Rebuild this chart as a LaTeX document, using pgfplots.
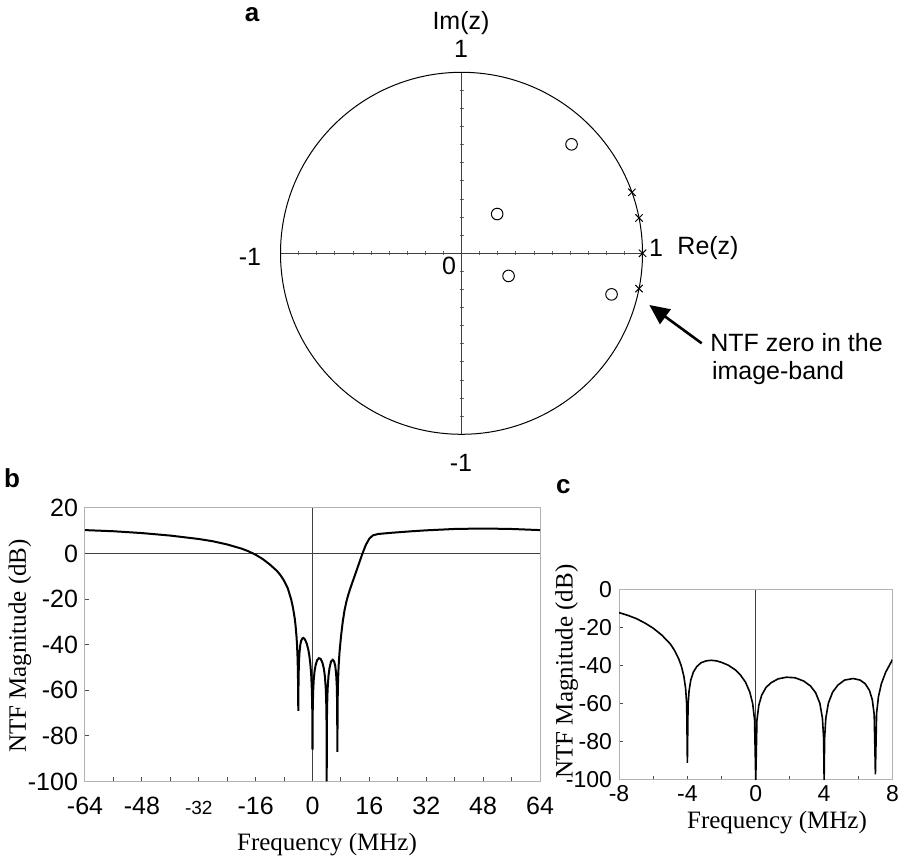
\documentclass[border=0pt]{standalone}
\usepackage{fontspec}
\setmainfont{Liberation Serif}
\setsansfont{Liberation Sans}
\usepackage{pgfplots}
\usepackage{pgfplotstable}
\pgfplotsset{compat=1.18}
\usetikzlibrary{arrows.meta}

\newcommand{\sfl}{\sffamily\fontsize{12.5}{14}\selectfont}
\newcommand{\sfm}{\sffamily\fontsize{12.5}{14}\selectfont}
\newcommand{\sfs}{\sffamily\fontsize{11.5}{13}\selectfont}
\newcommand{\rml}{\rmfamily\fontsize{12.5}{14}\selectfont}
\newcommand{\bfl}{\sffamily\bfseries\fontsize{13}{14}\selectfont}

% panel c: NTF magnitude, -8..8 MHz
\pgfplotstableread{
f db
-8 -11.9
-7.5 -13.3
-7 -15.0
-6.5 -17.3
-6 -20.1
-5.5 -23.7
-5 -28.4
-4.75 -31.8
-4.5 -36.4
-4.35 -40.1
-4.2 -45.7
-4.1 -52.1
-4.04 -60.3
-4 -91
-3.96 -60.7
-3.9 -53.0
-3.8 -47.4
-3.65 -43.2
-3.45 -40.3
-3.2 -38.3
-2.9 -37.3
-2.6 -37.0
-2.3 -37.3
-2 -38.1
-1.6 -39.6
-1.2 -42.0
-0.9 -44.7
-0.6 -48.5
-0.35 -53.7
-0.18 -59.8
-0.07 -68.2
0 -100
0.07 -68.6
0.18 -60.6
0.35 -55.3
0.6 -51.3
0.9 -48.8
1.3 -46.8
1.8 -45.9
2.3 -46.2
2.8 -47.9
3.2 -50.5
3.5 -54.0
3.75 -59.6
3.9 -67.4
3.97 -77.8
4 -100
4.03 -77.8
4.1 -67.4
4.25 -59.5
4.5 -53.7
4.8 -50.1
5.2 -47.4
5.7 -46.6
6.1 -47.4
6.4 -49.3
6.65 -52.8
6.82 -57.8
6.93 -65.6
7 -97
7.07 -64.9
7.18 -56.1
7.35 -49.3
7.6 -43.3
8 -36.6
}\ntfc

% panel b: NTF magnitude, -64..64 MHz
\pgfplotstableread{
f db
-64 10.3
-56 9.8
-48 9.0
-40 7.9
-32 6.4
-28 5.4
-24 4.0
-20 2.2
-18 1.0
-16 -0.5
-14 -2.4
-12 -4.8
-10 -7.6
-9 -9.5
-8 -11.9
-7 -15.0
-6 -20.1
-5.5 -23.7
-5 -28.4
-4.75 -31.8
-4.5 -36.4
-4.35 -40.1
-4.2 -45.7
-4.1 -52.1
-4.04 -60.3
-4 -69
-3.96 -60.7
-3.9 -53.0
-3.8 -47.4
-3.65 -43.2
-3.45 -40.3
-3.2 -38.3
-2.9 -37.3
-2.6 -37.0
-2.3 -37.3
-2 -38.1
-1.6 -39.6
-1.2 -42.0
-0.9 -44.7
-0.6 -48.5
-0.35 -53.7
-0.18 -59.8
-0.07 -68.2
0 -86
0.07 -68.6
0.18 -60.6
0.35 -55.3
0.6 -51.3
0.9 -48.8
1.3 -46.8
1.8 -45.9
2.3 -46.2
2.8 -47.9
3.2 -50.5
3.5 -54.0
3.75 -59.6
3.9 -67.4
3.97 -77.8
4 -100
4.03 -77.8
4.1 -67.4
4.25 -59.5
4.5 -53.7
4.8 -50.1
5.2 -47.4
5.7 -46.6
6.1 -47.4
6.4 -49.3
6.65 -52.8
6.82 -57.8
6.93 -65.6
7 -87
7.07 -64.9
7.18 -56.1
7.35 -49.3
7.6 -43.3
8 -36.6
8.5 -30.0
9 -25.0
9.5 -21.3
10 -18.4
10.5 -15.9
11 -13.6
12 -9.2
13 -4.7
14 -0.2
15 3.8
16 6.6
17 8.0
18.5 8.6
22 9.1
28 9.8
32 10.2
40 10.8
48 11.0
56 10.8
64 10.3
}\ntfb

\begin{document}
\begin{tikzpicture}
\path[use as bounding box] (0,0) rectangle (449.5pt,430.5pt);

% ---------------- panel a ----------------
\begin{axis}[at={(140.25pt,213.35pt)}, anchor=south west, scale only axis,
  width=181pt, height=181pt, xmin=-1, xmax=1, ymin=-1, ymax=1,
  axis lines=middle, axis line style={-, black!75, line width=0.5pt},
  xtick={-0.9,-0.8,-0.7,-0.6,-0.5,-0.4,-0.3,-0.2,-0.1,0.1,0.2,0.3,0.4,0.5,0.6,0.7,0.8,0.9},
  ytick={-0.9,-0.8,-0.7,-0.6,-0.5,-0.4,-0.3,-0.2,-0.1,0.1,0.2,0.3,0.4,0.5,0.6,0.7,0.8,0.9},
  xticklabels={}, yticklabels={},
  major tick length=2pt, tick style={black!60, line width=0.4pt},
  clip=false]
\draw[line width=0.5pt] (axis cs:0,0) circle[radius=1];
\addplot[only marks, mark=o, mark size=2.9pt, mark options={line width=0.5pt, black}]
  coordinates {(0.608,0.602) (0.197,0.217) (0.260,-0.125) (0.829,-0.227)};
\addplot[only marks, mark=x, mark size=2.6pt, mark options={line width=0.5pt, black}]
  coordinates {(1,0) (0.98079,0.19509) (0.98079,-0.19509) (0.94154,0.33689)};
\end{axis}
\node[font=\bfl, inner sep=0pt] at (126pt,423pt) {a};
\node[font=\sfl] at (230.5pt,419pt) {Im(z)};
\node[font=\sfl] at (230.5pt,406.25pt) {1};
\node[font=\sfl] at (230.5pt,199pt) {-1};
\node[font=\sfl] at (125pt,302pt) {-1};
\node[font=\sfl] at (224.5pt,297.5pt) {0};
\node[font=\sfl] at (328pt,306.5pt) {1};
\node[font=\sfl] at (354pt,306.5pt) {Re(z)};
\draw[line width=1.3pt, -{Triangle[length=10pt,width=9pt]}] (350.85pt,258.85pt) -- (324.65pt,278pt);
\node[font=\sfl, anchor=base west, inner sep=0pt] at (355pt,254.65pt) {NTF zero in the};
\node[font=\sfl, anchor=base west, inner sep=0pt] at (355.8pt,240.5pt) {image-band};

% ---------------- panel b ----------------
\begin{axis}[at={(42.5pt,39.75pt)}, anchor=south west, scale only axis,
  width=227.5pt, height=136.75pt,
  xmin=-64, xmax=64, ymin=-100, ymax=20,
  xtick={-64,-56,...,64},
  xticklabels={-64,,-48,,{\fontsize{9.5}{11}\selectfont -32},,-16,,0,,16,,32,,48,,64},
  ytick={-100,-80,...,20}, yticklabels={-100,-80,-60,-40,-20,0,20},
  ticklabel style={font=\sfm},
  xticklabel style={anchor=base, yshift=-16.75pt},
  tick align=inside, tickpos=left, major tick length=2pt,
  axis line style={gray!60, line width=0.5pt},
  tick style={black!70, line width=0.5pt}]
\addplot[black!75, line width=0.5pt] coordinates {(-64,0) (64,0)};
\addplot[black!75, line width=0.5pt] coordinates {(0,-100) (0,20)};
\addplot[black, line width=1pt] table[x=f, y=db] {\ntfb};
\end{axis}
\node[font=\bfl] at (6pt,191.5pt) {b};
\node[font=\rml, rotate=90] at (10pt,107.5pt) {NTF Magnitude (dB)};
\node[font=\rml] at (163.5pt,8pt) {Frequency (MHz)};

% ---------------- panel c ----------------
\begin{axis}[at={(309.5pt,40.5pt)}, anchor=south west, scale only axis,
  width=136.75pt, height=95pt,
  xmin=-8, xmax=8, ymin=-100, ymax=0,
  xtick={-8,-6,...,8}, xticklabels={-8,,-4,,0,,4,,8},
  ytick={-100,-80,...,0}, yticklabels={-100,-80,-60,-40,-20,0},
  ticklabel style={font=\sfs},
  xticklabel style={anchor=base, yshift=-10.8pt},
  tick align=inside, tickpos=left, major tick length=2pt,
  axis line style={gray!60, line width=0.5pt},
  tick style={black!70, line width=0.5pt}]
\addplot[black!75, line width=0.5pt] coordinates {(0,-100) (0,0)};
\addplot[black, line width=0.8pt] table[x=f, y=db] {\ntfc};
\end{axis}
\node[font=\bfl] at (281.7pt,187.2pt) {c};
\node[font=\rml, rotate=90] at (283.3pt,94.7pt) {NTF Magnitude (dB)};
\node[font=\rml] at (388.5pt,19pt) {Frequency (MHz)};
\end{tikzpicture}
\end{document}
